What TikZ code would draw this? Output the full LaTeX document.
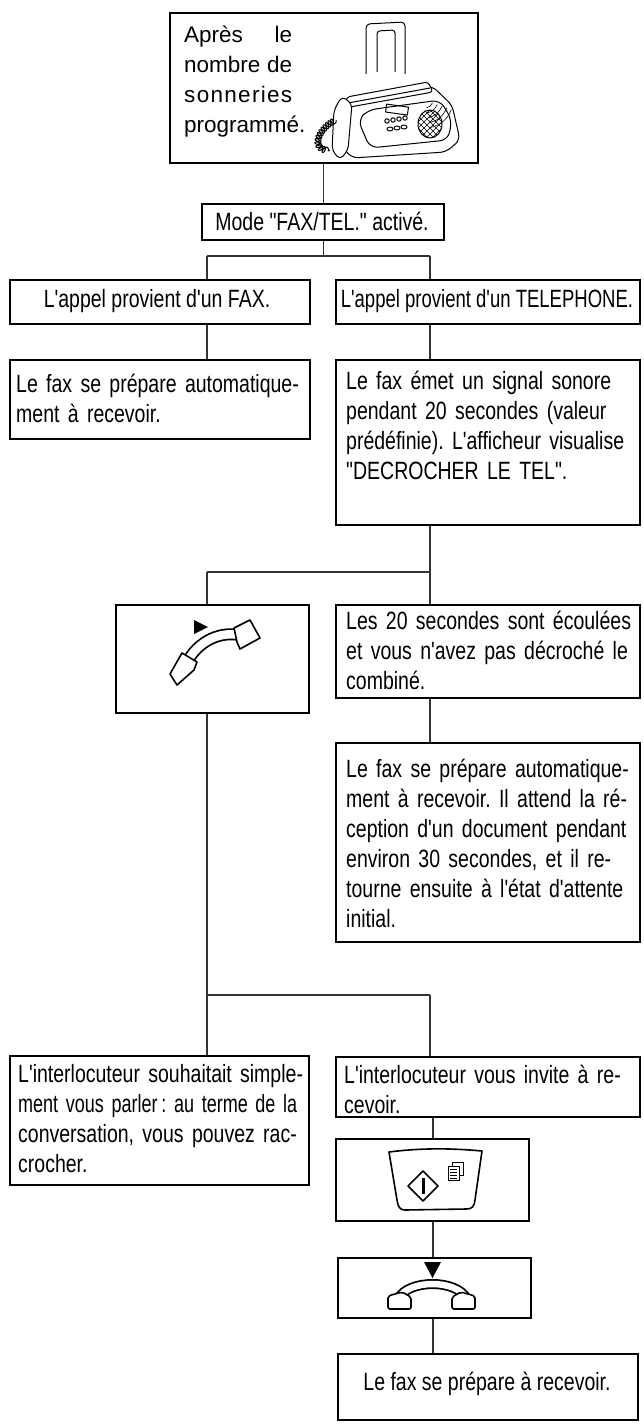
\documentclass[tikz,border=0pt]{standalone}
\usepackage{fontspec}
\setmainfont{Liberation Sans}[FakeStretch=0.78,Ligatures=TeXOff]
\newfontfamily\widef{Liberation Sans}[Ligatures=TeXOff]
\usetikzlibrary{calc,decorations.pathmorphing}
\newcommand\jl[1]{\makebox[\linewidth][s]{#1}\\}
\newcommand\jx[1]{\resizebox{\linewidth}{\height}{#1}\\}
\frenchspacing
\begin{document}
\begin{tikzpicture}[x=1pt,y=-1pt,
  box/.style={draw,line width=2.2pt,inner sep=0pt},
  con/.style={draw=black!80,line width=1.1pt},
  txt/.style={anchor=north west,inner sep=0pt,align=left,font=\fontsize{25}{30}\selectfont},
  ctxt/.style={inner sep=0pt,font=\fontsize{25}{30}\selectfont},
  ic/.style={line width=1.6pt,line join=round}]
\useasboundingbox (0,0) rectangle (643,1426);
\newcommand\mybox[5]{\node[box,anchor=north west,minimum width={(#4)-(#2)},minimum height={(#5)-(#3)}] (#1) at (#2,#3) {};}
% boxes
\mybox{top}{169}{12}{477}{162}
\mybox{mode}{201}{203}{443}{239}
\mybox{fax1}{9}{279}{309}{323}
\mybox{tel1}{335}{279}{639}{323}
\mybox{fax2}{9}{359}{309}{438}
\mybox{tel2}{335}{359}{639}{524}
\mybox{pick}{115}{604}{308}{712}
\mybox{tout}{335}{604}{639}{697}
\mybox{auto}{335}{742}{639}{941}
\mybox{talk}{9}{1055}{308}{1184}
\mybox{inv}{335}{1056}{639}{1116}
\mybox{start}{335}{1138}{528}{1220}
\mybox{hang}{337}{1257}{530}{1317}
\mybox{recv}{337}{1353}{637}{1419}
% texts
\node[anchor=north west,inner sep=0pt,align=left,font=\widef\fontsize{22.5}{30}\selectfont] (t0) at (184,26) {\makebox[108pt][s]{Après le}\\\makebox[108pt][s]{nombre de}\\\makebox[108pt][s]{s\hfill o\hfill n\hfill n\hfill e\hfill r\hfill i\hfill e\hfill s}\\programmé.};
\node[ctxt] (t1) at (322,221) {Mode "FAX/TEL." activé.};
\node[ctxt] (t2) at (157,301) {L'appel provient d'un FAX.};
\node[ctxt] (t3) at (487,301) {\scalebox{0.95}[1]{L'appel provient d'un TELEPHONE.}};
\node[txt,text width=280] (t4) at (16,374) {\jl{Le fax se prépare automatique-}ment à recevoir.};
\node[txt,text width=279] (t5) at (346,371) {\jl{Le fax émet un signal sonore}\jl{pendant 20 secondes (valeur}\jl{prédéfinie). L'afficheur visualise}"DECROCHER LE TEL".};
\node[txt,text width=279] (t6) at (346,611) {\jl{Les 20 secondes sont écoulées}\jl{et vous n'avez pas décroché le}combiné.};
\node[txt,text width=279] (t7) at (346,759) {\jl{Le fax se prépare automatique-}\jl{ment à recevoir. Il attend la ré-}\jl{ception d'un document pendant}\jl{environ 30 secondes, et il re-}\jl{tourne ensuite à l'état d'attente}initial.};
\node[txt,text width=279] (t8) at (18,1064) {\jl{L'interlocuteur souhaitait simple-}\jx{ment vous parler\,: au terme de la}\jl{conversation, vous pouvez rac-}crocher.};
\node[txt,text width=279] (t9) at (344,1065) {\jl{L'interlocuteur vous invite à re-}cevoir.};
\node[ctxt] (t10) at (487,1384) {Le fax se prépare à recevoir.};
% connectors
\coordinate (a1) at (207,256); \coordinate (a2) at (430,256);
\coordinate (b1) at (207,572); \coordinate (b2) at (430,572);
\coordinate (c1) at (207,995); \coordinate (c2) at (430,995);
\draw[con] (top.south -| mode.north) -- (mode.north);
\draw[con] (mode.south) -- (mode.south |- a1);
\draw[con] (a1) -- (a2);
\draw[con] (a1) -- (a1 |- fax1.north);
\draw[con] (a2) -- (a2 |- tel1.north);
\draw[con] (a1 |- fax1.south) -- (a1 |- fax2.north);
\draw[con] (a2 |- tel1.south) -- (a2 |- tel2.north);
\draw[con] (b2 |- tel2.south) -- (b2 |- tout.north);
\draw[con] (b1) -- (b2);
\draw[con] (b1) -- (b1 |- pick.north);
\draw[con] (b2 |- tout.south) -- (b2 |- auto.north);
\draw[con] (b1 |- pick.south) -- (c1);
\draw[con] (c1) -- (c2);
\draw[con] (c1) -- (c1 |- talk.north);
\draw[con] (c2) -- (c2 |- inv.north);
\coordinate (d) at (433,1116);
\draw[con] (d |- inv.south) -- (d |- start.north);
\draw[con] (d |- start.south) -- (d |- hang.north);
\draw[con] (d |- hang.south) -- (d |- recv.north);
% ---- fax illustration
\begin{scope}[line width=1pt,line join=round]
\draw[fill=white,rounded corners=4] (366,74) -- (366,24) -- (405,22) -- (405,74);
\draw[rounded corners=3] (377,72) -- (377,31) -- (395,30) -- (395,72);
\draw[fill=white,rounded corners=6] (340,112) -- (348,100) -- (432,86) -- (452,105) -- (460,140) -- (446,152) -- (352,158) -- (338,142) -- cycle;
\draw[fill=white,rounded corners=3] (343,108) -- (347,97) -- (428,82) -- (433,92) -- (350,107) -- cycle;
\draw (348,103) -- (430,88);
\draw[rounded corners=8] (358,120) -- (368,110) -- (440,100) -- (452,120) -- (448,140) -- (370,148) -- cycle;
\draw[rotate around={-8:(400,110)}] (386,106) rectangle (408,114);
\foreach \i in {0,1,2,3} \draw (387+\i*6,121-\i*1) circle (2.2);
\foreach \i in {0,1,2} \draw (390+\i*7,129-\i*1) ellipse (3 and 2);
\draw (430,124) ellipse (12 and 14);
\begin{scope}
\clip (430,124) ellipse (12 and 14);
\foreach \k in {-30,-24,...,30} {\draw[line width=0.6pt] (418+\k,110) -- (448+\k,140); \draw[line width=0.6pt] (418+\k,140) -- (448+\k,110);}
\end{scope}
\draw[fill=white,rounded corners=5] (342,96) -- (352,104) -- (348,150) -- (340,160) -- (332,150) -- (334,110) -- cycle;
\draw[decorate,decoration={coil,aspect=0.6,segment length=3pt,amplitude=3pt}] (336,120) .. controls (318,128) and (310,150) .. (330,150);
\foreach \r in {8,13,18,23,28} \draw[line width=0.6pt] (425,100) ++(20:\r) arc (20:80:\r);
\end{scope}
% ---- pickup handset
\fill (194,620) -- (208,627) -- (194,634) -- cycle;
\draw[line width=12pt] (186,664) .. controls (198,640) and (222,630) .. (243,636);
\draw[line width=8.5pt,white] (186,664) .. controls (198,640) and (222,630) .. (243,636);
\draw[ic,fill=white] (170,674) -- (182,653) -- (197,662) -- (194,670) -- (177,685) -- cycle;
\draw[ic,fill=white] (234,628) -- (250,620) -- (260,638) -- (240,649) -- (237,642) -- cycle;
% ---- start key
\draw[ic] (389,1152) .. controls (420,1148) and (450,1148) .. (482,1151) -- (475,1200) .. controls (474,1207) and (472,1209) .. (466,1209) -- (405,1210) .. controls (400,1210) and (398,1207) .. (397,1200) -- cycle;
\draw[ic] (423,1171) -- (438,1186) -- (423,1201) -- (408,1186) -- cycle;
\fill (421.5,1178) rectangle (424.5,1194);
\draw[line width=0.8pt,fill=white] (452,1162) rectangle (463,1175);
\draw[line width=0.8pt,fill=white] (448,1166) rectangle (459,1180);
\foreach \y in {1169,1172,1175,1178} \draw[line width=0.6pt] (450,\y) -- (457,\y);
% ---- hang up
\fill (424,1262) -- (441,1262) -- (432.5,1278) -- cycle;
\draw[line width=10pt] (398,1299) .. controls (408,1279) and (457,1279) .. (467,1299);
\draw[line width=6.5pt,white] (398,1299) .. controls (408,1279) and (457,1279) .. (467,1299);
\draw[ic,fill=white,rounded corners=2] (388,1309) -- (388,1296) -- (402,1292) -- (411,1297) -- (411,1309) -- cycle;
\draw[ic,fill=white,rounded corners=2] (475,1309) -- (475,1296) -- (461,1292) -- (452,1297) -- (452,1309) -- cycle;
\end{tikzpicture}
\end{document}
